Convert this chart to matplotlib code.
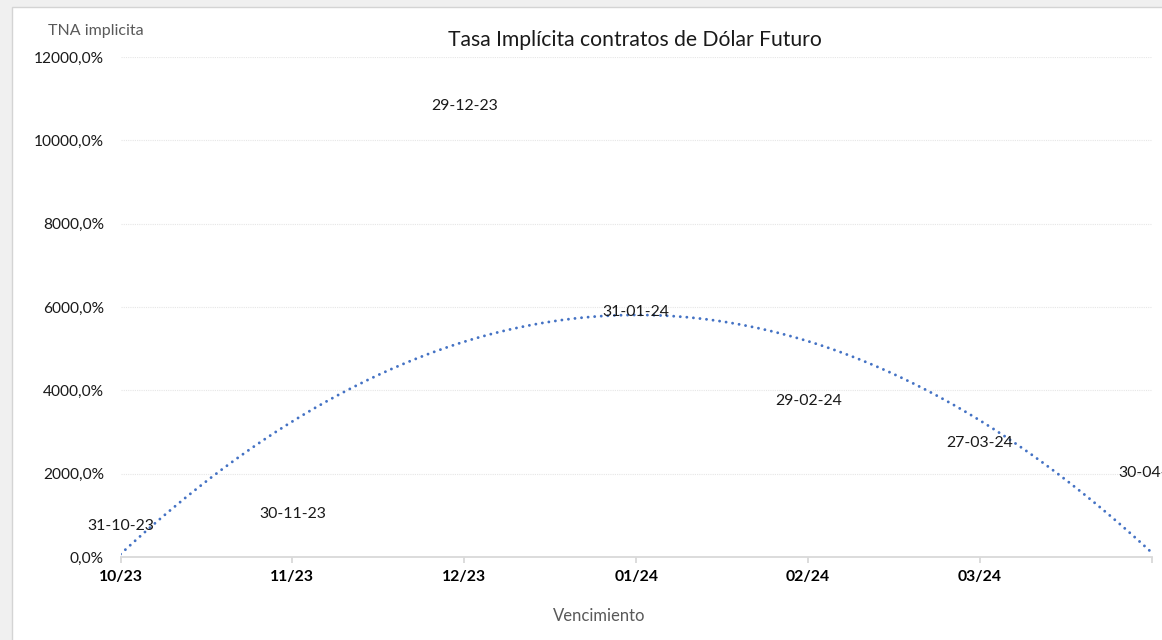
import numpy as np
import matplotlib.pyplot as plt
from matplotlib.patches import Rectangle
from matplotlib.ticker import FuncFormatter

plt.rcParams['font.family'] = ['Lato', 'DejaVu Sans']

# --------------------------------------------------
# Data
# --------------------------------------------------

vencimientos = ["31-10-23", "30-11-23", "29-12-23", "31-01-24",
                "29-02-24", "27-03-24", "30-04-24"]
meses = ["10/23", "11/23", "12/23", "01/24", "02/24", "03/24", ""]
tna = [155, 443, 10235, 5291, 3155, 2147, 1427]  # TNA implicita, %

# --------------------------------------------------
# Figure
# --------------------------------------------------

W, H = 1162, 640
fig = plt.figure(figsize=(W / 100, H / 100), dpi=100, facecolor="#f0f0f0")
fig.patches.append(Rectangle((12 / W, -0.01), 1.0, (H - 7) / H + 0.01,
                             transform=fig.transFigure, facecolor="white",
                             edgecolor="#d4d4d4", lw=1, zorder=-5))

ax = fig.add_axes([120.5 / W, 83 / H, (1152 - 120.5) / W, 500 / H])
ax.set_facecolor("none")

x = np.arange(len(tna))

# polynomial (order 2) trendline, as in the original chart
coef = np.polyfit(x, tna, 2)
xs = np.linspace(x[0], x[-1], 400)
ax.plot(xs, np.polyval(coef, xs), color="#4472C4", lw=2.1,
        ls=(0, (0.01, 2.25)), dash_capstyle="round", zorder=2)

# data labels above each (invisible) point
for xi, yi, lab in zip(x, tna, vencimientos):
    ax.annotate(lab, (xi, yi), xytext=(0, 17.4), textcoords="offset points",
                ha="center", va="center", fontsize=11.4, color="#1a1a1a",
                annotation_clip=False, zorder=3)

ax.set_xlim(0, len(tna) - 1)
ax.set_ylim(0, 12000)
ax.set_yticks(range(0, 12001, 2000))
ax.yaxis.set_major_formatter(
    FuncFormatter(lambda v, p: f"{v:.1f}".replace(".", ",") + "%"))
ax.set_xticks(x)
ax.set_xticklabels(meses, fontweight="bold")

for s in ["left", "top", "right"]:
    ax.spines[s].set_visible(False)
ax.spines["bottom"].set_color("#d9d9d9")
ax.spines["bottom"].set_linewidth(1.3)

ax.tick_params(axis="y", length=0, pad=12, labelsize=11.2, labelcolor="#1a1a1a")
ax.tick_params(axis="x", length=4.5, width=1.3, color="#d9d9d9", pad=5,
               labelsize=11.3, labelcolor="black")

ax.yaxis.grid(True, color="#e6e6e6", ls=(0, (1, 1)), lw=0.8, zorder=0)
ax.set_axisbelow(True)

fig.text(635 / W, 1 - 40 / H, "Tasa Implícita contratos de Dólar Futuro",
         ha="center", va="center", fontsize=15.2, color="#1a1a1a")
fig.text(96 / W, 1 - 31 / H, "TNA implicita", ha="center", va="center",
         fontsize=11.5, color="#595959")
fig.text(599 / W, 1 - 616 / H, "Vencimiento", ha="center", va="center",
         fontsize=12, color="#595959")

fig.savefig("out.png", dpi=100)
